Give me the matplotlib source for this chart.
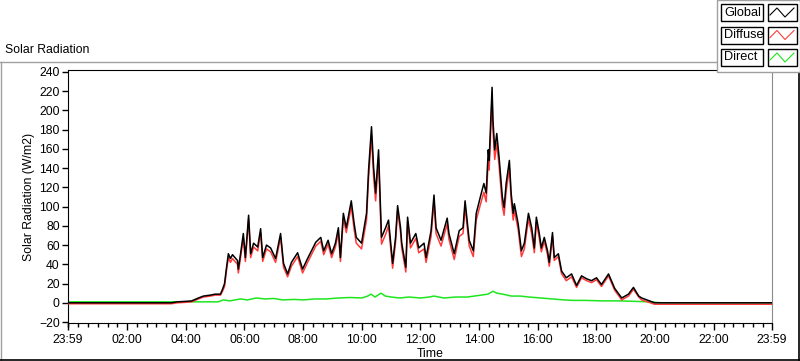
import numpy as np
import matplotlib
matplotlib.use("Agg")
import matplotlib.pyplot as plt
from matplotlib.patches import Rectangle
from matplotlib.lines import Line2D
from matplotlib.ticker import MultipleLocator

plt.rcParams['font.family'] = ['Liberation Sans', 'DejaVu Sans']

# time in hours (23:59 of previous day = -1/60)
t_global = [-0.017, 3.50, 3.71, 4.00, 4.20, 4.43, 4.60, 4.84, 5.00, 5.18, 5.25, 5.32, 5.38, 5.45,
            5.52, 5.59, 5.76, 5.79, 5.88, 5.96, 6.03, 6.14, 6.21, 6.31, 6.45, 6.55, 6.62, 6.75,
            6.89, 7.06, 7.23, 7.33, 7.47, 7.60, 7.81, 7.98, 8.15, 8.30, 8.43, 8.60, 8.70, 8.85,
            8.97, 9.10, 9.20, 9.27, 9.37, 9.47, 9.64, 9.74, 9.81, 9.99, 10.16, 10.23, 10.33, 10.40,
            10.47, 10.57, 10.64, 10.67, 10.81, 10.91, 11.05, 11.15, 11.22, 11.32, 11.36, 11.50,
            11.56, 11.66, 11.84, 11.94, 12.12, 12.19, 12.36, 12.46, 12.53, 12.70, 12.91, 12.97,
            13.15, 13.32, 13.45, 13.52, 13.66, 13.80, 13.90, 14.04, 14.16, 14.24, 14.31, 14.34,
            14.44, 14.47, 14.53, 14.60, 14.68, 14.79, 14.85, 14.92, 15.03, 15.09, 15.16, 15.20,
            15.33, 15.44, 15.54, 15.68, 15.79, 15.88, 15.95, 16.05, 16.12, 16.22, 16.33, 16.39,
            16.50, 16.56, 16.70, 16.81, 16.97, 17.15, 17.32, 17.49, 17.66, 17.83, 18.00, 18.17,
            18.41, 18.62, 18.86, 19.09, 19.26, 19.44, 19.54, 19.98, 23.983]

global_rad = [0, 0, 1, 1.5, 2, 5, 7, 8, 9, 9, 14, 20, 35, 51,
              46, 50, 44, 35, 54, 72, 47, 91, 51, 62, 58, 77, 47, 60,
              57, 46, 72, 41, 30, 42, 52, 35, 46, 55, 63, 68, 54, 65,
              51, 62, 78, 47, 93, 78, 106, 82, 68, 62, 93, 138, 183, 141,
              114, 159, 96, 68, 78, 86, 41, 68, 101, 78, 62, 37,
              89, 62, 72, 57, 62, 47, 75, 112, 78, 65, 88, 72,
              51, 75, 78, 106, 65, 54, 93, 110, 124, 114, 159, 148,
              224, 190, 159, 176, 151, 110, 99, 124, 148, 114, 93, 103,
              82, 54, 62, 93, 78, 57, 89, 72, 57, 68, 54, 42,
              73, 47, 51, 33, 26, 30, 18, 28, 25, 23, 26, 19,
              30, 15, 5, 9, 16, 7, 5, 0, 0]

diffuse_rad = [-1, -1, 0, 0.5, 1, 4, 6, 7, 8, 8, 12, 17, 32, 47,
               42, 46, 40, 31, 50, 68, 43, 87, 47, 58, 54, 73, 43, 56,
               53, 42, 68, 37, 27, 38, 48, 31, 42, 51, 59, 64, 50, 61,
               47, 58, 73, 43, 88, 73, 100, 76, 62, 56, 86, 130, 174, 132,
               106, 150, 88, 61, 71, 80, 36, 63, 96, 73, 57, 32,
               84, 57, 67, 52, 56, 42, 69, 105, 72, 59, 82, 66,
               45, 69, 72, 100, 59, 48, 86, 102, 115, 105, 149, 138,
               213, 180, 149, 166, 142, 101, 91, 116, 140, 107, 86, 96,
               76, 48, 56, 87, 72, 52, 84, 67, 53, 64, 50, 38,
               69, 44, 48, 30, 23, 27, 16, 26, 23, 21, 24, 17,
               28, 13, 3, 7, 14, 6, 3, -1.5, -1.5]

t_direct = [-0.017, 5.10, 5.28, 5.50, 5.86, 6.10, 6.40, 6.70, 7.00, 7.30, 7.70, 8.00, 8.40,
            8.80, 9.20, 9.60, 10.00, 10.20, 10.31, 10.45, 10.65, 10.80, 11.00, 11.30, 11.60,
            12.00, 12.30, 12.46, 12.80, 13.20, 13.60, 14.07, 14.30, 14.47, 14.60, 14.80, 15.10,
            15.40, 15.70, 16.10, 16.50, 16.90, 17.20, 17.60, 18.20, 18.75, 19.30, 19.80, 20.20,
            23.983]
direct_rad = [1, 1, 3, 2, 4, 3, 5, 4, 4.5, 3, 3.5, 3, 4,
              4, 5, 5.5, 5, 7, 9, 6, 10, 7, 6, 5, 6,
              5, 6, 7, 5, 6, 6, 8, 9, 12, 10, 9, 7,
              7, 6, 5, 4, 3, 2.5, 2.5, 2, 2, 1.5, 1, 0,
              0]

tick_pos = [-0.017, 2, 4, 6, 8, 10, 12, 14, 16, 18, 20, 22, 23.983]
tick_labels = ['23:59', '02:00', '04:00', '06:00', '08:00', '10:00', '12:00',
               '14:00', '16:00', '18:00', '20:00', '22:00', '23:59']
legend_names = ['Global', 'Diffuse', 'Direct']
legend_colors = ['black', '#ff3b3b', '#1ee61e']

W, H = 800, 361
fig = plt.figure(figsize=(W / 100, H / 100), dpi=100)


def fx(x):
    return x / W


def fy(y):
    return 1 - y / H


# plot area
ax = fig.add_axes([fx(68), fy(323), fx(772) - fx(68), fy(70) - fy(323)])
ax.plot(t_direct, direct_rad, color=legend_colors[2], lw=1.1, zorder=2)
ax.plot(t_global, diffuse_rad, color=legend_colors[1], lw=1.1, zorder=3)
ax.plot(t_global, global_rad, color=legend_colors[0], lw=1.1, zorder=4)

ax.set_xlim(-0.017, 23.983)
ax.set_ylim(-21, 242)
ax.set_xticks(tick_pos)
ax.set_xticklabels(tick_labels)
ax.xaxis.set_minor_locator(MultipleLocator(1 / 3))
ax.set_yticks(np.arange(-20, 241, 20))
ax.tick_params(axis='x', which='major', length=5, width=1, pad=3, labelsize=8.8, colors='black')
ax.tick_params(axis='x', which='minor', length=3, width=1)
ax.tick_params(axis='y', length=4, width=1, pad=2, labelsize=8.8)
for s in ['top', 'left', 'bottom']:
    ax.spines[s].set_color('black')
ax.spines['right'].set_color('#8a8a8a')
ax.set_ylabel('Solar Radiation (W/m2)', fontsize=8.8, labelpad=3)
ax.set_xlabel('Time', fontsize=8.8, labelpad=2)
ax.xaxis.set_label_coords(0.514, -0.1)

# panel frame
fig.add_artist(Line2D([fx(0), fx(718)], [fy(62), fy(62)], color='#a0a0a0', lw=1))
fig.add_artist(Line2D([fx(0.5), fx(0.5)], [fy(62), fy(360)], color='#a0a0a0', lw=1))
fig.add_artist(Line2D([fx(0), fx(800)], [fy(360), fy(360)], color='black', lw=1.2))
fig.add_artist(Line2D([fx(799), fx(799)], [fy(72), fy(360)], color='black', lw=1.2))
fig.text(fx(5), fy(50), 'Solar Radiation', fontsize=8.8, va='center', ha='left')

# legend box
fig.add_artist(Rectangle((fx(717), fy(72)), fx(83), fy(0) - fy(72), facecolor='white',
                         edgecolor='#a0a0a0', lw=1, zorder=5))
for i, (name, col) in enumerate(zip(legend_names, legend_colors)):
    top = 4 + i * 22.5
    fig.add_artist(Rectangle((fx(721), fy(top + 17)), fx(42), fy(0) - fy(17), facecolor='white',
                             edgecolor='black', lw=1, zorder=6))
    fig.text(fx(724), fy(top + 8.5), name, fontsize=9.2, va='center', ha='left', zorder=7)
    fig.add_artist(Rectangle((fx(768), fy(top + 17)), fx(29), fy(0) - fy(17), facecolor='white',
                             edgecolor='black', lw=1, zorder=6))
    zx = [770, 777, 785, 794]
    zy = [top + 11, top + 4, top + 13, top + 4]
    fig.add_artist(Line2D([fx(v) for v in zx], [fy(v) for v in zy], color=col, lw=0.8, zorder=7))

fig.savefig('out.png', dpi=100)
